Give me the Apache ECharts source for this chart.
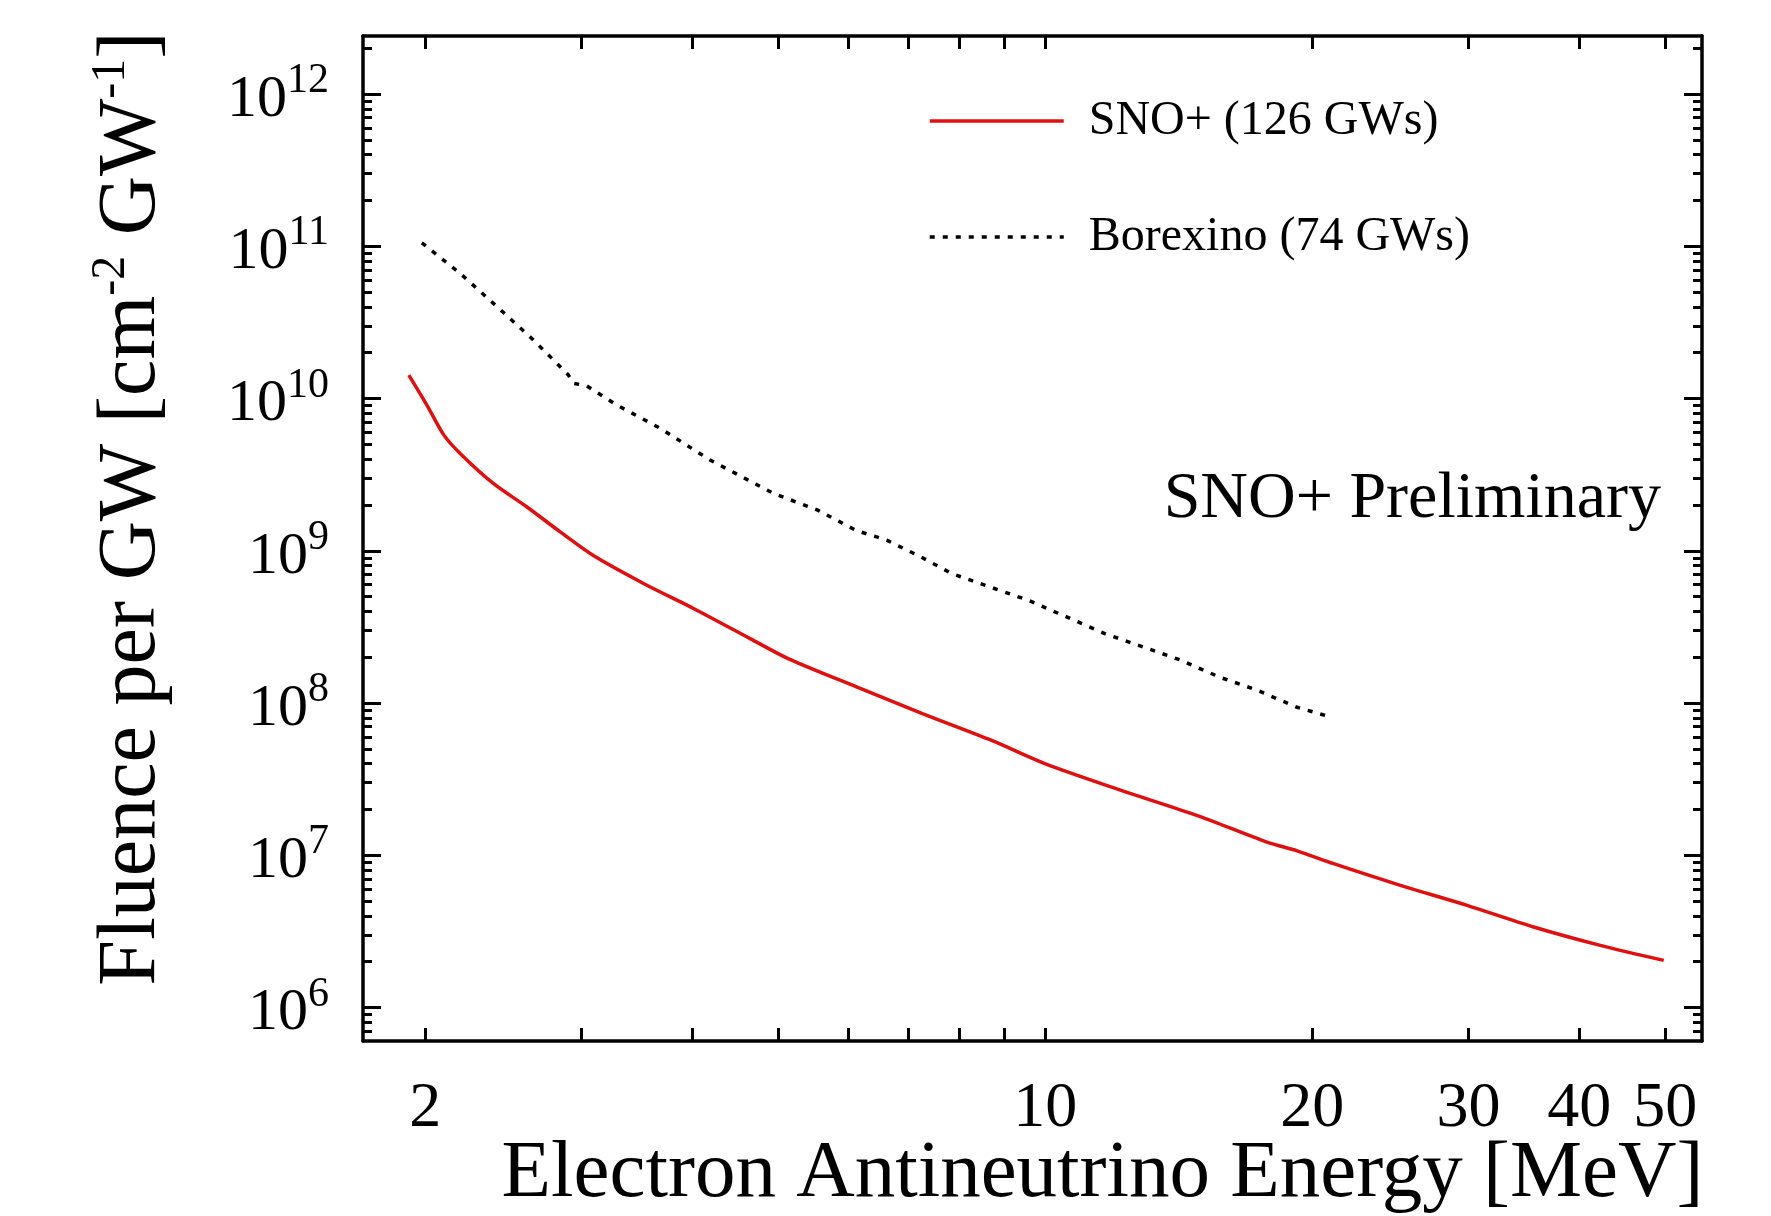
<!DOCTYPE html>
<html>
<head>
<meta charset="utf-8">
<script src="https://cdn.jsdelivr.net/npm/echarts@6/dist/echarts.min.js"></script>
<style>
  html, body { margin: 0; padding: 0; background: #ffffff; }
  #chart { width: 1771px; height: 1216px; }
</style>
</head>
<body>
<div id="chart"></div>
<script>
// ---- data ----
const snoEnergy = [1.917, 2.009, 2.10, 2.19, 2.387, 2.605, 2.84, 3.095, 3.525, 4.013, 4.649, 5.13, 6.197, 7.27, 8.69, 9.99, 12.18, 14.9, 17.78, 19.23, 21.14, 25.14, 29.89, 35.53, 42.24, 49.8];
const snoFluence = [1.426e10, 9.06e9, 5.75e9, 4.36e9, 2.77e9, 1.94e9, 1.33e9, 9.3e8, 6.10e8, 4.18e8, 2.65e8, 1.96e8, 1.245e8, 8.53e7, 5.70e7, 4.0e7, 2.67e7, 1.81e7, 1.22e7, 1.07e7, 8.81e6, 6.35e6, 4.69e6, 3.38e6, 2.56e6, 2.04e6];

const borEnergy = [1.983, 2.19, 2.387, 2.65, 2.901, 2.939, 3.042, 3.289, 3.682, 4.192, 4.94, 5.54, 6.12, 6.625, 7.24, 7.84, 8.66, 9.57, 10.57, 11.67, 12.88, 14.23, 15.72, 17.37, 19.18, 20.96];
const borFluence = [1.054e11, 6.64e10, 4.22e10, 2.42e10, 1.426e10, 1.26e10, 1.21e10, 9.06e9, 6.37e9, 3.94e9, 2.38e9, 1.85e9, 1.36e9, 1.175e9, 9.12e8, 7.10e8, 5.79e8, 4.73e8, 3.68e8, 2.86e8, 2.34e8, 1.91e8, 1.48e8, 1.21e8, 9.42e7, 8.11e7];

const seriesNames = ['SNO+ (126 GWs)', 'Borexino (74 GWs)'];

// ---- ticks / labels ----
const xTickValues = [2, 3, 4, 5, 6, 7, 8, 9, 10, 20, 30, 40, 50];
const xLabelValues = [2, 10, 20, 30, 40, 50];
const yMajorValues = [1e6, 1e7, 1e8, 1e9, 1e10, 1e11, 1e12];
const yMinorMantissas = [2, 3, 4, 5, 6, 7, 8, 9];
const yMinorExponents = [5, 6, 7, 8, 9, 10, 11, 12];

const X_MIN = 1.702, X_MAX = 55.0;
const Y_MIN = 6.03e5, Y_MAX = 2.405e12;

const yMinorValues = [];
yMinorExponents.forEach(e => yMinorMantissas.forEach(m => {
  const v = m * Math.pow(10, e);
  if (v > Y_MIN && v < Y_MAX) yMinorValues.push(v);
}));

const FONT = '"Liberation Serif", "Times New Roman", serif';

const snoData = snoEnergy.map((e, i) => [e, snoFluence[i]]);
const borData = borEnergy.map((e, i) => [e, borFluence[i]]);

const chart = echarts.init(document.getElementById('chart'), null, { renderer: 'canvas' });

const AXW = 3.5;
function baseX(extra) {
  return Object.assign({
    type: 'log', logBase: 10, min: X_MIN, max: X_MAX,
    splitLine: { show: false }, minorTick: { show: false },
    axisLine: { show: true, lineStyle: { color: '#000', width: AXW } },
    axisTick: { show: true, inside: true, length: 13, lineStyle: { color: '#000', width: 3 }, customValues: xTickValues },
  }, extra);
}
function baseY(extra) {
  return Object.assign({
    type: 'log', logBase: 10, min: Y_MIN, max: Y_MAX,
    splitLine: { show: false }, minorTick: { show: false },
    axisLine: { show: false },
    axisLabel: { show: false },
  }, extra);
}

const option = {
  backgroundColor: '#ffffff',
  animation: false,
  grid: { left: 363, right: 69, top: 36, bottom: 175, containLabel: false, outerBoundsMode: 'none' },
  legend: {
    orient: 'vertical', left: 928, top: 93, padding: 0,
    itemWidth: 134, itemHeight: 14, itemGap: 60,
    data: seriesNames,
    textStyle: { fontFamily: FONT, fontSize: 48, color: '#000', lineHeight: 56, padding: [0, 0, 0, 20] },
    lineStyle: { width: 3.5 },
    itemStyle: { opacity: 0 },
  },
  graphic: [{
    type: 'text', right: 110, top: 467,
    style: { text: 'SNO+ Preliminary', font: '66px ' + FONT, fill: '#000' }
  }],
  xAxis: [
    baseX({
      position: 'bottom',
      axisLabel: { show: true, customValues: xLabelValues, margin: 36, fontFamily: FONT, fontSize: 64, color: '#000',
        formatter: v => String(Math.round(v)) },
      name: 'Electron Antineutrino Energy [MeV]', nameLocation: 'middle', nameGap: 93,
      nameMoveOverlap: false,
      nameTextStyle: { fontFamily: FONT, fontSize: 81, color: '#000', padding: [0, 0, 0, 140] },
    }),
    baseX({ position: 'top', axisLabel: { show: false } }),
  ],
  yAxis: [
    baseY({
      position: 'left',
      axisLine: { show: true, lineStyle: { color: '#000', width: AXW } },
      axisTick: { show: true, inside: true, length: 18, lineStyle: { color: '#000', width: 3 }, customValues: yMajorValues },
      axisLabel: {
        show: true, customValues: yMajorValues, margin: 34, padding: [12, 0, 0, 0],
        formatter: v => '{b|10}{s|' + Math.round(Math.log10(v)) + '}',
        rich: {
          b: { fontFamily: FONT, fontSize: 60, lineHeight: 80, color: '#000' },
          s: { fontFamily: FONT, fontSize: 42, lineHeight: 42, color: '#000', verticalAlign: 'top' },
        },
      },
      name: '{t|Fluence per GW [cm}{sup|-2}{t| GW}{sup|-1}{t|]}',
      nameLocation: 'middle', nameGap: 186,
      nameMoveOverlap: false,
      nameTextStyle: {
        padding: [0, 0, 0, 60],
        rich: {
          t: { fontFamily: FONT, fontSize: 82, lineHeight: 90, color: '#000' },
          sup: { fontFamily: FONT, fontSize: 48, lineHeight: 48, color: '#000', verticalAlign: 'top' },
        },
      },
    }),
    baseY({ position: 'left', axisTick: { show: true, inside: true, length: 9, lineStyle: { color: '#000', width: 3 }, customValues: yMinorValues } }),
    baseY({ position: 'right',
      axisLine: { show: true, lineStyle: { color: '#000', width: AXW } },
      axisTick: { show: true, inside: true, length: 18, lineStyle: { color: '#000', width: 3 }, customValues: yMajorValues } }),
    baseY({ position: 'right', axisTick: { show: true, inside: true, length: 9, lineStyle: { color: '#000', width: 3 }, customValues: yMinorValues } }),
  ],
  series: [
    {
      name: seriesNames[0], type: 'line', xAxisIndex: 0, yAxisIndex: 0,
      data: snoData, symbol: 'none', showSymbol: false, smooth: 0.3,
      lineStyle: { color: '#e01010', width: 3.5 }, itemStyle: { color: '#e01010' },
    },
    {
      name: seriesNames[1], type: 'line', xAxisIndex: 0, yAxisIndex: 0,
      data: borData, symbol: 'none', showSymbol: false, smooth: false,
      lineStyle: { color: '#000', width: 3.5, type: [5, 8] }, itemStyle: { color: '#000' },
    },
  ],
};
chart.setOption(option);
</script>
</body>
</html>
